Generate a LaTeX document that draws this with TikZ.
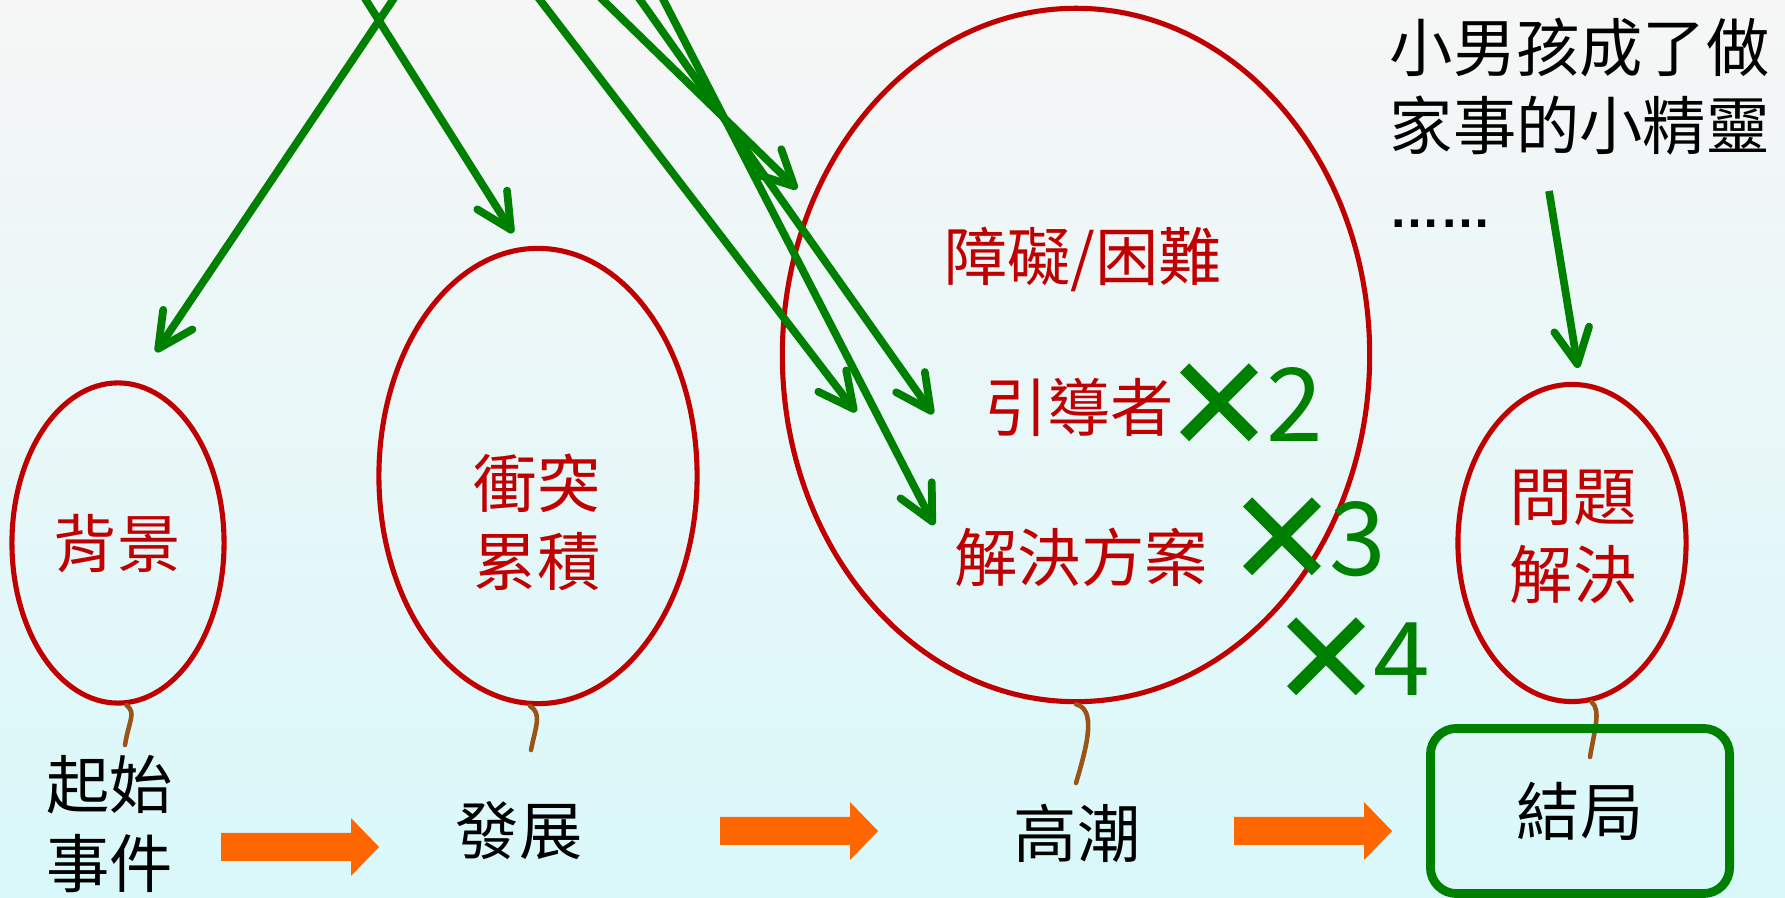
\documentclass[tikz,border=0pt]{standalone}
\usepackage{fontspec}
\setmainfont{Noto Sans CJK TC}
\newfontfamily\symfont{DejaVu Sans}
\newfontfamily\dotfont{Liberation Sans}
\usetikzlibrary{arrows.meta,shapes.geometric}
\definecolor{balloonred}{HTML}{C00000}
\definecolor{hintgreen}{HTML}{008000}
\definecolor{twinebrown}{HTML}{9A5417}
\definecolor{blockorange}{HTML}{FF6600}
\definecolor{bgtop}{HTML}{F6F6F6}
\definecolor{bgbottom}{HTML}{D9F8FA}
\newcommand{\bigtxt}{\fontsize{18}{22.2}\selectfont}
\newcommand{\timesmark}[1]{{\symfont\bfseries\fontsize{38}{38}\selectfont ✕}\hspace{-0.09cm}\raisebox{0.1cm}{#1}}

\begin{document}
\begin{tikzpicture}[x=0.01cm,y=-0.01cm,
  balloon/.style={draw=balloonred,line width=1.45pt,ellipse,inner sep=0pt},
  redtxt/.style={text=balloonred,font=\bigtxt,align=center},
  blacktxt/.style={font=\bigtxt,align=center},
  hint/.style={draw=hintgreen,line width=2.2pt,-{Straight Barb[round,length=10pt,width=10pt]}},
  times/.style={text=hintgreen,anchor=west,inner sep=0pt,font=\fontsize{29}{29}\selectfont},
  twine/.style={draw=twinebrown,line width=1.3pt,line cap=round},
  blockarrow/.style={fill=blockorange},
  endbox/.style={draw=hintgreen,line width=2.5pt,rounded corners=0.26cm,minimum width=2.99cm,minimum height=1.65cm}]
\useasboundingbox (0,0) rectangle (1785,898);
\clip (0,0) rectangle (1785,898);
\shade[top color=bgtop,bottom color=bgbottom] (0,0) rectangle (1785,898);

% balloons
\node[balloon,minimum width=2.12cm,minimum height=3.2cm] (bg) at (118,543) {};
\node[balloon,minimum width=3.18cm,minimum height=4.55cm] (clash) at (538,476) {};
\node[balloon,minimum width=5.87cm,minimum height=6.93cm] (peak) at (1076,355) {};
\node[balloon,minimum width=2.28cm,minimum height=3.17cm] (solve) at (1572,543) {};

% strings
\coordinate (bgend) at (125,745);
\coordinate (clashend) at (531,750);
\coordinate (peakend) at (1076,783);
\coordinate (solveend) at (1590,757);
\draw[twine] (bg.-87) .. controls +(10,8) and +(4,-25) .. (bgend);
\draw[twine] (clash.-92) .. controls +(12,8) and +(5,-25) .. (clashend);
\draw[twine] (peak.-90) .. controls +(20,5) and +(12,-40) .. (peakend);
\draw[twine] (solve.-83) .. controls +(10,8) and +(4,-25) .. (solveend);

% green hints
\coordinate (fromA) at (413,-30);  \coordinate (toA) at (156,352);
\coordinate (fromB) at (347,-30);  \coordinate (toB) at (513,233);
\coordinate (fromC) at (517,-30);  \coordinate (toC) at (856,412);
\coordinate (fromD) at (572,-30);  \coordinate (toD) at (797,189);
\coordinate (fromE) at (619,-30);  \coordinate (toE) at (933,414);
\coordinate (fromF) at (648,-30);  \coordinate (toF) at (934,525);
\coordinate (fromG) at (1549,191); \coordinate (toG) at (1578,368);
\foreach \n in {A,B,C,D,E,F,G}
  \draw[hint] (from\n) -- (to\n);

% texts in balloons
\node[redtxt] (bgtxt) at (117,544) {背景};
\node[redtxt] (clashtxt) at (537,522) {衝突\\累積};
\node[redtxt] (obstacle) at (1083,259) {障礙/困難};
\node[redtxt] (guide) at (1079,407) {引導者};
\node[redtxt] (plan) at (1081,557) {解決方案};
\node[redtxt] (solvetxt) at (1573,537) {問題\\解決};
\node[times] (twice) at (1163,408) {\timesmark{2}};
\node[times] (thrice) at (1226,542) {\timesmark{3}};
\node[times] (four) at (1270,662) {\timesmark{4}};

% story line
\node[blacktxt,align=left,anchor=north west,inner sep=0pt] (fairy) at (1389,17)
  {小男孩成了做\\家事的小精靈\\{\dotfont\bfseries\fontsize{14.5}{22.2}\selectfont ……}};
\node[blacktxt] (opening) at (110,824) {起始\\事件};
\node[blacktxt] (rising) at (519,831) {發展};
\node[blacktxt] (climax) at (1077,833) {高潮};
\node[blacktxt,endbox] (ending) at (1580,811) {結局};
\foreach \xa/\ya in {221/847,720/831,1234/831}
  \fill[blockarrow] (\xa,\ya-14) -- ++(130,0) -- ++(0,-15) -- ++(28,29) -- ++(-28,29) -- ++(0,-15) -- ++(-130,0) -- cycle;
\end{tikzpicture}
\end{document}
